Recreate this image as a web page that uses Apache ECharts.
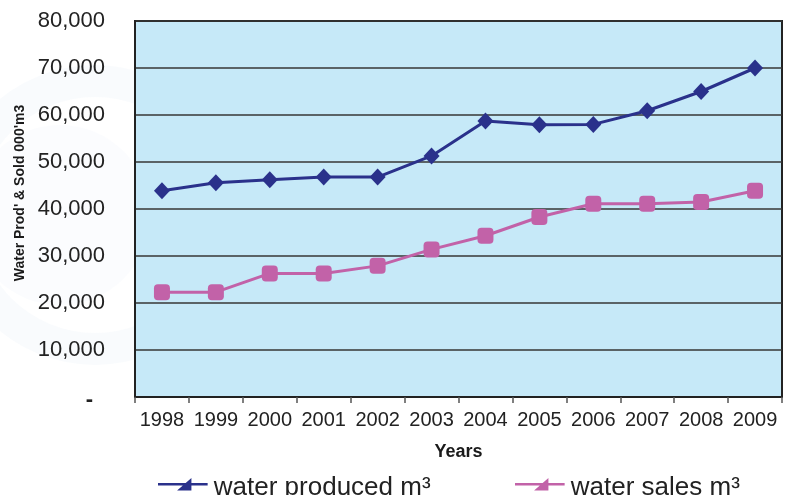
<!DOCTYPE html>
<html>
<head>
<meta charset="utf-8">
<script src="https://cdn.jsdelivr.net/npm/echarts@6/dist/echarts.min.js"></script>
<style>
  html, body { margin: 0; padding: 0; background: #ffffff; }
  #chart { width: 788px; height: 495px; }
</style>
</head>
<body>
<div id="chart"></div>
<script>
// Annual water production and sales (000' m3)
const years = ['1998', '1999', '2000', '2001', '2002', '2003', '2004', '2005', '2006', '2007', '2008', '2009'];
const waterProduced = [43900, 45600, 46200, 46800, 46800, 51300, 58700, 57900, 58000, 60900, 65000, 70000];
const waterSales = [22300, 22300, 26300, 26300, 27900, 31400, 34300, 38300, 41100, 41100, 41500, 43900];
const seriesNames = ['water produced m\u00b3', 'water sales m\u00b3'];
const yTicks = { min: 0, max: 80000, interval: 10000 };

const FONT = '"Liberation Sans", Arial, Helvetica, sans-serif';
// legend key: a short line with a wedge marker; the tiny last sub-path keeps the box tall so the line sits higher
const legendIcon = 'path://M0,4.2 L52,4.2 L52,6.8 L0,6.8 Z M35,-1 L35,12 L20,12 Z M0,19.9 L0.05,19.9 L0,19.95 Z';

const chart = echarts.init(document.getElementById('chart'), null, { renderer: 'canvas' });

chart.setOption({
  animation: false,
  backgroundColor: '#ffffff',
  textStyle: { fontFamily: FONT },
  graphic: [
    {
      type: 'ring', z: -10, silent: true,
      shape: { cx: 95, cy: 215, r: 150, r0: 118 },
      style: { fill: 'rgba(205,222,240,0.12)' }
    },
    {
      type: 'circle', z: -10, silent: true,
      shape: { cx: 60, cy: 215, r: 90 },
      style: { fill: 'rgba(215,228,243,0.10)' }
    },
    {
      type: 'text', x: 20, y: 193, rotation: Math.PI / 2,
      style: {
        text: "Water Prod' & Sold 000'm3",
        fontFamily: FONT, fontSize: 14, fontWeight: 'bold',
        fill: '#1a1a1a', textAlign: 'center', textVerticalAlign: 'middle'
      }
    }
  ],
  grid: {
    left: 135, right: 6, top: 21, bottom: 98,
    show: true, backgroundColor: '#c6e9f8',
    borderColor: '#222222', borderWidth: 2
  },
  legend: [
    {
      data: [seriesNames[0]], left: 153, top: 470,
      icon: legendIcon, itemWidth: 52, itemHeight: 20, itemGap: 0,
      itemStyle: { borderWidth: 0 }, lineStyle: { width: 0 },
      textStyle: { fontFamily: FONT, fontSize: 26, color: '#222222', padding: [4, 0, 0, 0] },
      itemTextGap: 9
    },
    {
      data: [seriesNames[1]], left: 510, top: 470,
      icon: legendIcon, itemWidth: 52, itemHeight: 20, itemGap: 0,
      itemStyle: { borderWidth: 0 }, lineStyle: { width: 0 },
      textStyle: { fontFamily: FONT, fontSize: 26, color: '#222222', padding: [4, 0, 0, 0] },
      itemTextGap: 15
    }
  ],
  xAxis: {
    type: 'category',
    data: years,
    boundaryGap: true,
    name: 'Years',
    nameLocation: 'middle',
    nameGap: 46,
    nameTextStyle: { fontFamily: FONT, fontSize: 18, fontWeight: 'bold', color: '#1a1a1a' },
    axisLine: { show: true, lineStyle: { color: '#222222', width: 2 } },
    axisTick: { show: true, interval: 0, length: 6, lineStyle: { color: '#555555', width: 1.5 } },
    axisLabel: { interval: 0, fontFamily: FONT, fontSize: 20, color: '#222222', margin: 13 },
    splitLine: { show: false }
  },
  yAxis: {
    type: 'value',
    min: yTicks.min, max: yTicks.max, interval: yTicks.interval,
    axisLine: { show: true, lineStyle: { color: '#222222', width: 2 } },
    axisTick: { show: false },
    axisLabel: {
      fontFamily: FONT, fontSize: 22, color: '#222222', margin: 30,
      formatter: function (v) {
        if (v === 0) return '{dash|-}';
        return v.toLocaleString('en-US');
      },
      rich: {
        dash: { fontFamily: FONT, fontSize: 22, fontWeight: 'bold', color: '#222222', padding: [6, 12, 0, 0] }
      }
    },
    splitLine: { show: true, lineStyle: { color: '#363636', width: 1.6 } }
  },
  series: [
    {
      name: seriesNames[0],
      type: 'line',
      data: waterProduced,
      symbol: 'diamond',
      symbolSize: [16, 17],
      lineStyle: { color: '#2a318b', width: 3 },
      itemStyle: { color: '#2a318b' },
      z: 3
    },
    {
      name: seriesNames[1],
      type: 'line',
      data: waterSales,
      symbol: 'roundRect',
      symbolSize: 16,
      lineStyle: { color: '#c262a8', width: 3 },
      itemStyle: { color: '#c262a8' },
      z: 2
    }
  ]
});
</script>
</body>
</html>
